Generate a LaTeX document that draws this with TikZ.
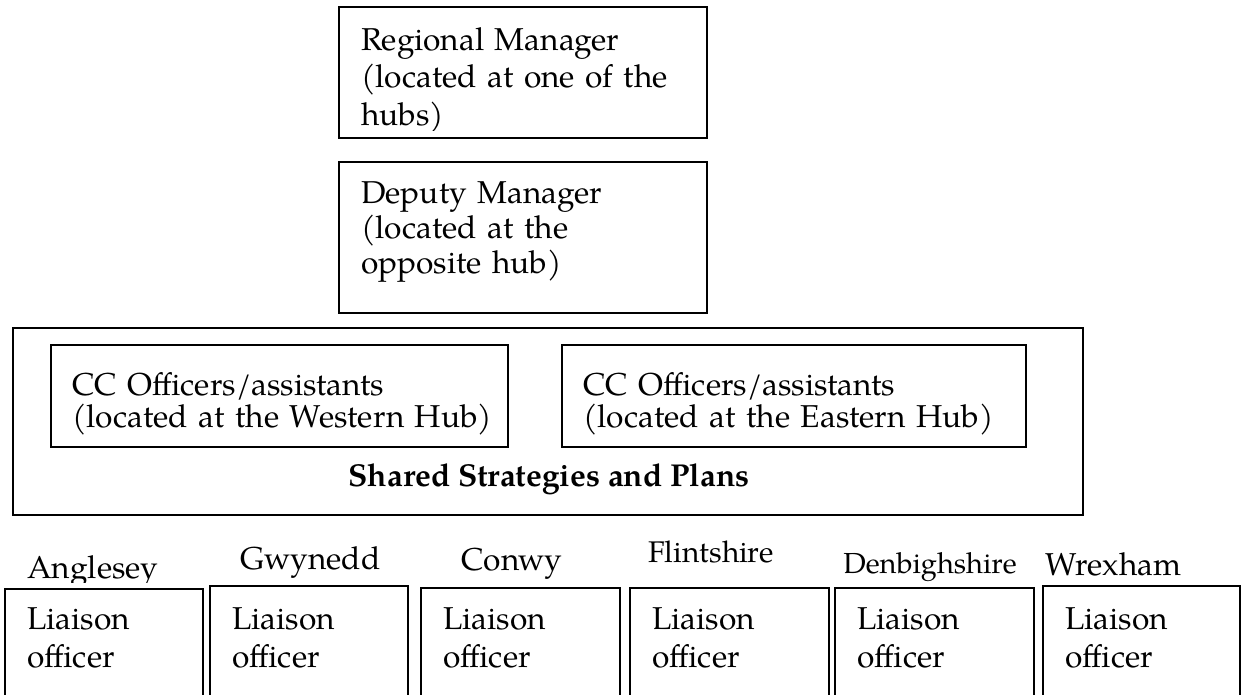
\documentclass[tikz,border=0pt]{standalone}
\usepackage{fontspec}
\setmainfont{TeX Gyre Pagella}

\begin{document}
\begin{tikzpicture}[x=0.02cm,y=-0.02cm]
\tikzstyle{box}=[draw=black,line width=1pt]
\tikzstyle{txt}=[inner sep=0pt,anchor=base west,align=left,text width=9cm,font=\fontsize{18}{21.5}\selectfont]
\tikzstyle{lbl}=[inner sep=0pt,anchor=base west,font=\fontsize{18}{21.5}\selectfont]
\useasboundingbox (0,0) rectangle (1246,694);
% managers
\draw[box] (339,7) rectangle (707,138);
\begin{scope}
\clip (339,7) rectangle (707,130);
\node[txt] (regional) at (361,50) {Regional Manager\\(located at one of the\\hubs)};
\end{scope}
\draw[box] (339,162) rectangle (707,313);
\node[txt,font=\fontsize{18}{20}\selectfont] (deputy) at (361,203) {Deputy Manager\\(located at the\\opposite hub)};
% shared box with the two hubs
\draw[box] (13,328) rectangle (1083,515);
\draw[box] (51,345) rectangle (508,447);
\node[txt,font=\fontsize{18}{18.5}\selectfont] (western) at (72,395) {CC Officers/assistants\\(located at the Western Hub)};
\draw[box] (562,345) rectangle (1026,447);
\node[txt,font=\fontsize{18}{18.5}\selectfont] (eastern) at (583,395) {CC Officers/assistants\\(located at the Eastern Hub)};
\node[inner sep=0pt,anchor=base,font=\fontsize{18}{21.5}\selectfont\bfseries] (shared) at (549,486) {Shared Strategies and Plans};
% counties
\begin{scope}
\clip (0,540) rectangle (200,582);
\node[lbl] (anglesey) at (27,578) {Anglesey};
\end{scope}
\node[lbl] (gwynedd) at (240,569) {Gwynedd};
\node[lbl] (conwy) at (461,570) {Conwy};
\node[lbl,font=\fontsize{17}{20}\selectfont] (flintshire) at (648,562) {Flintshire};
\node[lbl,font=\fontsize{16.5}{20}\selectfont] (denbighshire) at (843,573) {Denbighshire};
\node[lbl] (wrexham) at (1045,575) {Wrexham};
\foreach \xl/\xr/\yt [count=\i] in {5/203/589,210/408/586,421/620/588,630/829/588,835/1034/588,1043/1240/586}{
  \draw[box] (\xl,700) -- (\xl,\yt) -- (\xr,\yt) -- (\xr,700);
  \node[txt,font=\fontsize{18}{22}\selectfont] (liaison\i) at (\xl+22,629) {Liaison\\officer};
}
\end{tikzpicture}
\end{document}
